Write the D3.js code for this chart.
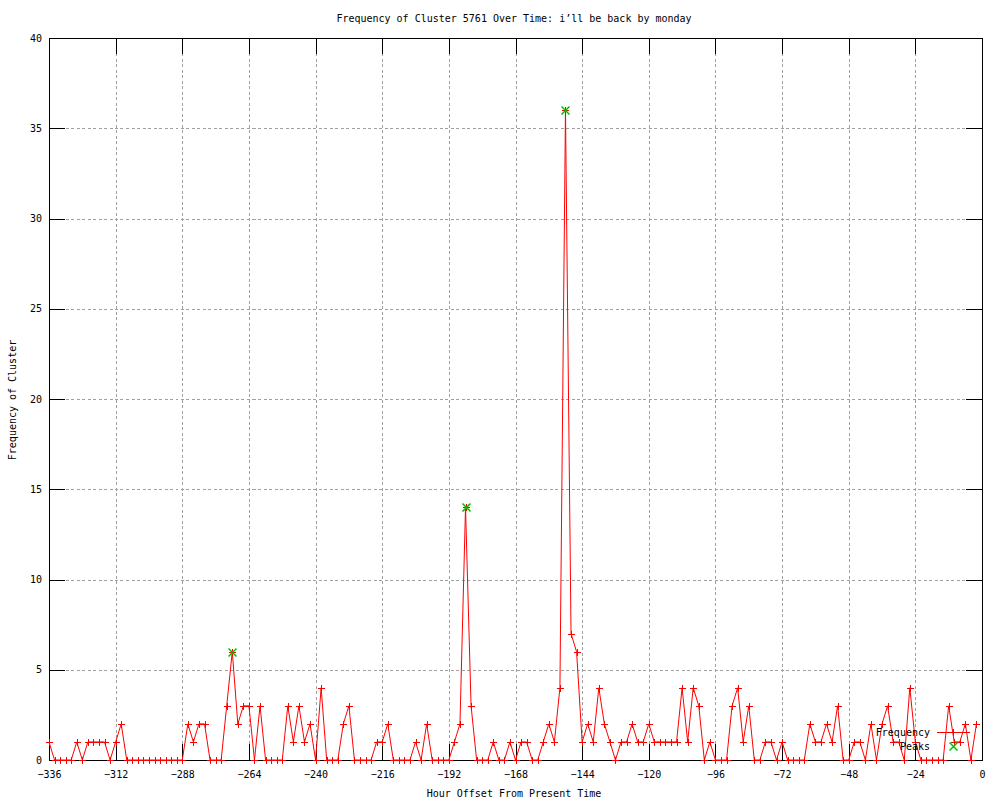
<!DOCTYPE html>
<html>
<head>
<meta charset="utf-8">
<script src="https://cdn.jsdelivr.net/npm/d3@7/dist/d3.min.js"></script>
<style>
  html, body { margin: 0; padding: 0; background: #fff; }
  svg { display: block; }
  text { font-family: "DejaVu Sans Mono", "Liberation Mono", monospace; font-size: 10px; fill: #000; }
</style>
</head>
<body>
<svg id="chart" width="1000" height="800"></svg>
<script>
// ---- data ----
const hours = [-336,-334,-332,-330,-328,-326,-324,-322,-320,-318,-316,-314,-312,-310,-308,-306,-304,-302,-300,-298,
  -296,-294,-292,-290,-288,-286,-284,-282,-280,-278,-276,-274,-272,-270,-268,-266,-264,-262,-260,-258,
  -256,-254,-252,-250,-248,-246,-244,-242,-240,-238,-236,-234,-232,-230,-228,-226,-224,-222,-220,-218,
  -216,-214,-212,-210,-208,-206,-204,-202,-200,-198,-196,-194,-192,-190,-188,-186,-184,-182,-180,-178,
  -176,-174,-172,-170,-168,-166,-164,-162,-160,-158,-156,-154,-152,-150,-148,-146,-144,-142,-140,-138,
  -136,-134,-132,-130,-128,-126,-124,-122,-120,-118,-116,-114,-112,-110,-108,-106,-104,-102,-100,-98,
  -96,-94,-92,-90,-88,-86,-84,-82,-80,-78,-76,-74,-72,-70,-68,-66,-64,-62,-60,-58,
  -56,-54,-52,-50,-48,-46,-44,-42,-40,-38,-36,-34,-32,-30,-28,-26,-24,-22,-20,-18,
  -16,-14,-12,-10,-8,-6,-4,-2];
const frequency = [1,0,0,0,0,1,0,1,1,1,
  1,0,1,2,0,0,0,0,0,0,
  0,0,0,0,0,2,1,2,2,0,
  0,0,3,6,2,3,3,0,3,0,
  0,0,0,3,1,3,1,2,0,4,
  0,0,0,2,3,0,0,0,0,1,
  1,2,0,0,0,0,1,0,2,0,
  0,0,0,1,2,14,3,0,0,0,
  1,0,0,1,0,1,1,0,0,1,
  2,1,4,36,7,6,1,2,1,4,
  2,1,0,1,1,2,1,1,2,1,
  1,1,1,1,4,1,4,3,0,1,
  0,0,0,3,4,1,3,0,0,1,
  1,0,1,0,0,0,0,2,1,1,
  2,1,3,0,0,1,1,0,2,0,
  2,3,1,1,0,4,1,0,0,0,
  0,0,3,1,1,2,0,2];
const peakHours = [-270, -186, -150];
const peakValues = [6, 14, 36];
const xTicks = [-336,-312,-288,-264,-240,-216,-192,-168,-144,-120,-96,-72,-48,-24,0];
const yTicks = [0,5,10,15,20,25,30,35,40];
const titleText = "Frequency of Cluster 5761 Over Time: i\u2019ll be back by monday";
const xLabel = "Hour Offset From Present Time";
const yLabel = "Frequency of Cluster";
const seriesNames = ["Frequency", "Peaks"];

// ---- layout ----
const L = 49, R = 982, T = 38, B = 760;
const svg = d3.select("#chart");
const x = d3.scaleLinear().domain([-336, 0]).range([L, R]);
const y = d3.scaleLinear().domain([0, 40]).range([B, T]);

const freqData = hours.map((h, i) => ({h, v: frequency[i]}));
const peakData = peakHours.map((h, i) => ({h, v: peakValues[i]}));

// grid
const grid = svg.append("g").attr("shape-rendering", "crispEdges")
  .attr("stroke", "#a0a0a0").attr("stroke-width", 1).attr("stroke-dasharray", "3,2.5");
grid.selectAll("line.gx").data(xTicks.slice(1, -1)).enter().append("line")
  .attr("x1", d => Math.round(x(d)) + 0.5).attr("x2", d => Math.round(x(d)) + 0.5)
  .attr("y1", B).attr("y2", T);
grid.selectAll("line.gy").data(yTicks.slice(1, -1)).enter().append("line")
  .attr("y1", d => Math.round(y(d)) + 0.5).attr("y2", d => Math.round(y(d)) + 0.5)
  .attr("x1", L).attr("x2", R);

// axes
function styleAxis(g) {
  g.attr("shape-rendering", "crispEdges");
  g.select(".domain").remove();
  g.selectAll(".tick line").attr("stroke", "#000");
  g.selectAll("text").attr("fill", "#000").style("font-family", "'DejaVu Sans Mono', monospace").style("font-size", "10px");
}
svg.append("g").attr("transform", `translate(0,${B})`)
  .call(d3.axisBottom(x).tickValues(xTicks).tickSize(-16).tickSizeOuter(0).tickPadding(11).tickFormat(d3.format("d")))
  .call(styleAxis);
svg.append("g").attr("transform", `translate(0,${T})`)
  .call(d3.axisTop(x).tickValues(xTicks).tickSize(-16).tickSizeOuter(0).tickFormat(""))
  .call(styleAxis);
svg.append("g").attr("transform", `translate(${L},0)`)
  .call(d3.axisLeft(y).tickValues(yTicks).tickSize(-16).tickSizeOuter(0).tickPadding(7).tickFormat(d3.format("d")))
  .call(styleAxis);
svg.append("g").attr("transform", `translate(${R},0)`)
  .call(d3.axisRight(y).tickValues(yTicks).tickSize(-16).tickSizeOuter(0).tickFormat(""))
  .call(styleAxis);

// frame
svg.append("rect").attr("x", L + 0.5).attr("y", T + 0.5).attr("width", R - L).attr("height", B - T)
  .attr("fill", "none").attr("stroke", "#000").attr("shape-rendering", "crispEdges");

// frequency line
const line = d3.line().x(d => x(d.h)).y(d => y(d.v));
svg.append("path").datum(freqData).attr("d", line)
  .attr("fill", "none").attr("stroke", "#ff0000").attr("stroke-width", 1);

const plusPath = "M-3.5,0H3.5M0,-3.5V3.5";
const crossPath = "M-4,-4L4,4M-4,4L4,-4";
svg.append("g").selectAll("path").data(freqData).enter().append("path")
  .attr("transform", d => `translate(${Math.round(x(d.h)) + 0.5},${Math.round(y(d.v)) + 0.5})`)
  .attr("d", plusPath).attr("stroke", "#ff0000").attr("fill", "none").attr("shape-rendering", "crispEdges");

// peaks
svg.append("g").selectAll("path").data(peakData).enter().append("path")
  .attr("transform", d => `translate(${Math.round(x(d.h)) + 0.5},${Math.round(y(d.v)) + 0.5})`)
  .attr("d", crossPath).attr("stroke", "#00c000").attr("stroke-width", 1.5).attr("fill", "none");

// legend
const leg = svg.append("g");
leg.append("text").attr("x", 930).attr("y", 732).attr("dy", "0.35em").attr("text-anchor", "end").text(seriesNames[0]);
leg.append("text").attr("x", 930).attr("y", 746).attr("dy", "0.35em").attr("text-anchor", "end").text(seriesNames[1]);
leg.append("line").attr("x1", 937).attr("x2", 970).attr("y1", 732.5).attr("y2", 732.5)
  .attr("stroke", "#ff0000").attr("shape-rendering", "crispEdges");
leg.append("path").attr("transform", "translate(953.5,732.5)").attr("d", plusPath)
  .attr("stroke", "#ff0000").attr("fill", "none").attr("shape-rendering", "crispEdges");
leg.append("path").attr("transform", "translate(953.5,746.5)").attr("d", crossPath)
  .attr("stroke", "#00c000").attr("stroke-width", 1.5).attr("fill", "none");

// titles
svg.append("text").attr("x", 514).attr("y", 22).attr("text-anchor", "middle").text(titleText);
svg.append("text").attr("x", 514).attr("y", 797).attr("text-anchor", "middle").text(xLabel);
svg.append("text").attr("transform", "translate(16,400) rotate(-90)").attr("text-anchor", "middle").text(yLabel);
</script>
</body>
</html>
